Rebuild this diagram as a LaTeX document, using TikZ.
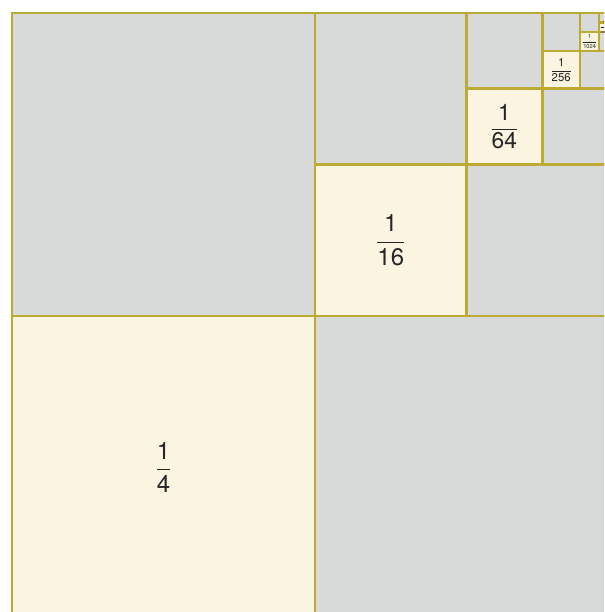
\documentclass[tikz,border=0pt]{standalone}
\usepackage{amsmath}
\usepackage{fontspec}
\setmainfont{TeX Gyre Heros}
\definecolor{edgegold}{HTML}{BCAA35}
\definecolor{fillcream}{HTML}{FAF4E0}
\definecolor{fillgray}{HTML}{D8D9D9}

\begin{document}
\begin{tikzpicture}[x=1pt, y=-1pt,
  cell/.style={draw=edgegold, line width=2.5pt},
  graycell/.style={cell, fill=fillgray},
  creamcell/.style={cell, fill=fillcream},
  lab/.style={text=black!85, inner sep=0pt}]
\useasboundingbox (0,0) rectangle (604,612);
\clip (0,0) rectangle (604,612);
% each level halves the side; the upper right quarter is split again
\foreach \k/\den in {0/4,1/16,2/64,3/256,4/1024,5/4096} {
  \pgfmathsetmacro\s{606/2^\k}
  \pgfmathsetmacro\h{\s/2}
  \pgfmathsetmacro\xl{618-\s}
  \pgfmathsetmacro\fs{min(24,0.3*\h)}
  \draw[graycell] (\xl,13) rectangle ++(\h,\h);
  \draw[graycell] (\xl+\h,13+\h) rectangle ++(\h,\h);
  \draw[creamcell] (\xl,13+\h) rectangle ++(\h,\h);
  \node[lab, font=\fontsize{\fs}{\fs}\selectfont] (q\k) at (\xl+\h/2,13+1.5*\h) {$\dfrac{\text{1}}{\text{\den}}$};
}
\end{tikzpicture}
\end{document}
